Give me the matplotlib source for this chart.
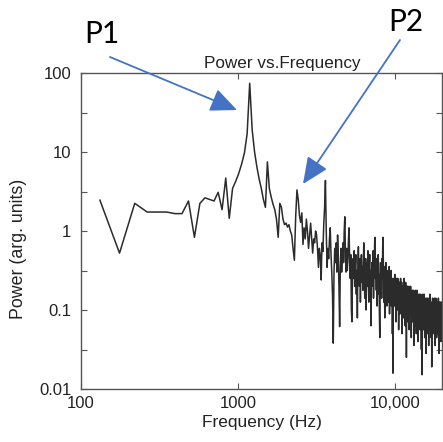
import numpy as np
import matplotlib
matplotlib.use("Agg")
import matplotlib.pyplot as plt
from matplotlib.ticker import FixedLocator, FixedFormatter, NullFormatter

plt.rcParams['font.family'] = ['Liberation Sans', 'DejaVu Sans']

# ---- data ----
bin_hz = 44.0
first_bin = 3
power_log10 = [
    0.39, -0.28, 0.35, 0.24, 0.24, 0.24, 0.22, 0.22, 0.38, -0.08, 0.35, 0.42, 0.40, 0.38, 0.49, 0.27, 0.67, 0.16, 0.54, 0.63,
    0.73, 0.85, 0.99, 1.23, 1.87, 1.28, 1.0, 0.81, 0.66, 0.54, 0.40, 0.30, 0.875, 0.54, 0.43, 0.34, 0.27, 0.15, -0.08, 0.35,
    0.30, 0.15, 0.08, 0.10, 0.05, 0.08, 0.0, -0.05, -0.22, -0.37, 0.18, 0.52, 0.40, 0.2, 0.11, 0.23, -0.17, 0.04, -0.1, 0.15,
    0.0, -0.22, -0.05, 0.10, -0.1, -0.28, -0.1, -0.15, 0.0, -0.05, -0.22, -0.46, -0.22, -0.3, -0.62, -0.15, -0.26, 0.08, 0.3, 0.64,
    0.0, -0.46, -0.22, -0.35, -0.1, 0.04, -0.3, -0.52, -0.82, -1.42, -0.52, -0.22, -0.4, -0.15, -0.52, -0.05, -0.3, -0.7, -1.21, -0.46,
    -0.22, -0.52, -0.35, -0.15, -0.4, 0.0, 0.18, -0.3, -0.52, -0.22, -0.5, -0.35, -0.1, 0.04, -0.4, -0.6, -0.3, -1.0, -1.15, -0.52,
    -0.35, -0.6, -0.25, -0.7, -0.45, -0.3, -0.8, -0.5, -1.1, -0.4, -0.2, -0.55, -0.7, -0.35, -0.9, -0.5, -0.3, -0.65, -0.45, -0.75,
    -0.4, -0.15, -0.6, -0.85, -0.5, -0.35, -1.0, -0.55, -0.4, -0.7, -0.25, -0.6, -0.9, -0.45, -0.3, -0.75, -0.5, -1.2, -0.6, -0.4,
    -0.7, -0.5, -0.25, -0.85, -0.55, -0.4, -0.1, -0.08, -0.6, -0.45, -0.75, -0.35, -0.95, -0.5, -0.65, -0.3, -0.8, -0.55, -1.05, -1.35,
    -0.6, -0.4, -0.7, -0.5, -0.85, -0.35, -0.6, -0.2, -0.08, -0.55, -0.9, -0.45, -0.7, -1.1, -0.5, -0.65, -0.4, -0.8, -0.6, -0.95,
    -0.5, -0.8, -0.55, -0.9, -0.6, -0.75, -0.45, -1.05, -0.7, -0.55, -0.85, -0.65, -0.5, -0.95, -0.7, -0.6, -1.3, -0.75, -1.8, -0.65,
    -0.6, -0.85, -0.65, -0.95, -0.55, -0.75, -0.9, -0.6, -1.15, -0.7, -0.85, -0.6, -1.0, -0.75, -0.6, -0.9, -0.7, -1.25, -0.8, -0.65,
    -0.9, -0.65, -1.05, -0.75, -0.6, -0.85, -1.0, -0.7, -0.65, -1.3, -0.8, -0.7, -0.95, -0.75, -1.1, -0.7, -0.85, -0.6, -1.0, -0.8,
    -0.7, -1.2, -0.85, -0.65, -0.95, -0.8, -1.6, -0.85, -0.7, -1.05, -0.85, -0.7, -1.15, -0.9, -0.75, -1.0, -0.7, -1.25, -0.85, -0.95,
    -0.75, -1.05, -0.85, -0.7, -1.0, -0.9, -1.35, -0.8, -0.85, -1.05, -0.75, -1.15, -0.9, -0.8, -1.1, -0.75, -0.95, -1.45, -0.85, -0.8,
    -1.0, -0.9, -1.2, -0.85, -0.75, -1.1, -0.95, -0.8, -1.3, -0.9, -1.0, -0.75, -1.15, -0.9, -0.85, -1.4, -0.95, -0.8, -1.05, -0.9,
    -1.15, -0.85, -0.95, -0.8, -1.1, -0.9, -1.25, -0.85, -1.0, -0.8, -1.15, -0.95, -1.5, -0.9, -1.05, -0.85, -1.82, -0.95, -1.1, -0.8,
    -1.05, -0.9, -1.25, -0.85, -1.0, -1.15, -0.8, -1.05, -0.95, -1.35, -0.9, -1.05, -0.85, -1.2, -1.0, -0.9, -1.55, -0.95, -1.1, -0.85,
    -1.1, -0.95, -1.3, -0.9, -1.05, -0.85, -1.2, -1.0, -1.1, -0.9, -1.45, -0.95, -1.05, -0.85, -1.2, -1.0, -1.05, -0.8, -1.25, -0.95,
    -1.1, -0.9, -1.15, -1.0, -1.35, -0.95, -1.05, -1.72, -0.9, -1.15, -1.0, -1.25, -0.85, -1.1, -0.95, -1.3, -1.0, -1.05, -0.9, -1.2,
    -0.95, -1.15, -0.85, -1.25, -1.0, -1.1, -0.9, -1.45, -1.05, -0.95, -1.2, -0.85, -1.25, -1.0, -1.1, -0.9, -1.35, -0.95, -1.15, -1.0,
    -1.2, -0.9, -1.05, -0.95, -1.3, -1.0, -1.15, -0.85, -1.25, -1.05, -0.95, -1.55, -1.0, -1.1, -0.9, -1.2, -0.95, -1.3, -1.05, -0.95,
    -1.15, -0.9, -1.1, -1.0, -1.4, -0.95, -1.15, -0.9, -1.3, -1.0, -1.1, -0.95, -1.2,
]
x_ticks = [100, 1000, 10000]
x_tick_labels = ["100", "1000", "10,000"]
y_ticks = [0.01, 0.1, 1, 10, 100]
y_tick_labels = ["0.01", "0.1", "1", "10", "100"]
y_minor_ticks = [0.0316, 0.316, 3.16, 31.6]

freqs = bin_hz * np.arange(first_bin, first_bin + len(power_log10))
power = 10.0 ** np.array(power_log10)

# ---- figure ----
W, H = 443, 442
fig = plt.figure(figsize=(W / 100, H / 100), dpi=100)
ax = fig.add_axes([81 / W, 1 - 389 / H, 361 / W, 316 / H])

ax.plot(freqs, power, color='#2b2b2b', lw=1.1)
ax.set_xscale('log')
ax.set_yscale('log')
ax.set_xlim(100, 19950)
ax.set_ylim(0.01, 100)

ax.xaxis.set_major_locator(FixedLocator(x_ticks))
ax.xaxis.set_major_formatter(FixedFormatter(x_tick_labels))
ax.xaxis.set_minor_locator(FixedLocator([]))
ax.yaxis.set_major_locator(FixedLocator(y_ticks))
ax.yaxis.set_major_formatter(FixedFormatter(y_tick_labels))
ax.yaxis.set_minor_locator(FixedLocator(y_minor_ticks))
ax.yaxis.set_minor_formatter(NullFormatter())

for s in ax.spines.values():
    s.set_color('#555555')
    s.set_linewidth(1.0)
ax.tick_params(which='both', direction='in', top=True, right=True,
               length=4, width=0.8, color='#555555', labelsize=12,
               labelcolor='#222222')
ax.tick_params(axis='y', pad=7)
ax.tick_params(axis='x', pad=5)

ax.set_xlabel("Frequency (Hz)", fontsize=12.5, color='#222222', labelpad=3)
ax.set_ylabel("Power (arg. units)", fontsize=12.8, color='#222222')
ax.yaxis.set_label_coords((27 - 81) / 361, 0.443)

ax.text((282 - 81) / 361, 1.005, "Power vs.Frequency", transform=ax.transAxes,
        ha='center', va='bottom', fontsize=12.3, color='#222222')

arrow_col = '#4472C4'
fig.text(102 / W, 1 - 34 / H, "P1", fontsize=21.5, ha='center', va='center',
         family=['Lato', 'DejaVu Sans'], color='black')
fig.text(406 / W, 1 - 22 / H, "P2", fontsize=21.5, ha='center', va='center',
         family=['Lato', 'DejaVu Sans'], color='black')

ap = dict(arrowstyle='-|>,head_length=0.9,head_width=0.4', color=arrow_col,
          lw=1.3, mutation_scale=18, shrinkA=0, shrinkB=0)
ax.annotate("", xy=(237, H - 110), xycoords='figure pixels',
            xytext=(110, H - 57), textcoords='figure pixels',
            arrowprops=ap, annotation_clip=False)
ax.annotate("", xy=(303, H - 184), xycoords='figure pixels',
            xytext=(400, H - 40), textcoords='figure pixels',
            arrowprops=ap, annotation_clip=False)

fig.savefig("out.png", dpi=100)
